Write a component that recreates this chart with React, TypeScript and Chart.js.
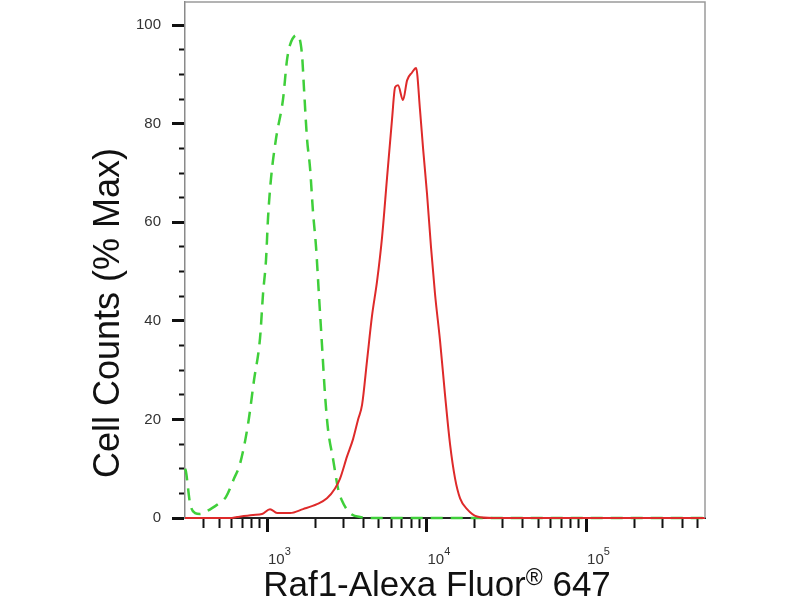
import { useEffect, useRef } from "react";
import { Chart, registerables } from "chart.js";

Chart.register(...registerables);

// isotype control (green, dashed)
const isoX = [306, 310, 329, 354, 380, 409, 452, 500, 553, 621, 677, 760, 829, 904, 944, 986, 1015, 1060, 1139, 1260, 1335, 1394, 1542, 1657, 1706, 1781, 1861, 1943, 2029, 2118, 2212, 2310, 2412, 2593, 2787, 2953, 3314, 3830, 5000, 557000];
const isoY = [10, 9.5, 3, 1, 0.8, 1.2, 2, 3, 4.3, 8, 11, 19, 28, 36.5, 45.5, 52.5, 61, 69, 77, 85, 93, 96, 98, 94, 87, 77, 71, 62, 55, 45, 35, 25, 18, 12, 6, 3.5, 1, 0.2, 0, 0];

// Raf1 stained sample (red)
const rafX = [306, 380, 586, 649, 817, 930, 1044, 1156, 1394, 1682, 2057, 2376, 2668, 2869, 3175, 3462, 3723, 3945, 4238, 4551, 4894, 5263, 5654, 6080, 6353, 6628, 7123, 7551, 8117, 8600, 9107, 9512, 10070, 10670, 11300, 12150, 13060, 14040, 15100, 16230, 17950, 20730, 26130, 557000];
const rafY = [0, 0, 0, 0.2, 0.6, 0.8, 1.8, 1, 1, 1.8, 2.8, 4, 6, 8, 12.5, 16, 20, 23, 32, 41, 48, 57, 69, 81, 87.4, 87.8, 84.8, 88.8, 90.4, 91.3, 82.7, 75, 65.8, 54.9, 45.5, 36, 25, 15, 8, 4, 1.8, 0.3, 0, 0];

const X_MIN = 306;
const X_MAX = 557000;
const Y_MAX = 104.7;

const xMajor = [1e3, 1e4, 1e5];
const xExp = ["3", "4", "5"];
const xMinorFactors = [2, 3, 4, 5, 6, 7, 8, 9];
const yMajor = [0, 20, 40, 60, 80, 100];
const yStep = 5;

const xTitle = "Raf1-Alexa Fluor";
const xTitleMark = "®";
const xTitleTail = " 647";
const yTitle = "Cell Counts (% Max)";

const FONT = "'Liberation Sans', Arial, sans-serif";

const xTickValues = [100, ...xMajor]
  .flatMap((d) => [d, ...xMinorFactors.map((f) => d * f)])
  .filter((v) => v >= X_MIN && v <= X_MAX);
const yTickValues: number[] = [];
for (let v = 0; v <= 100; v += yStep) yTickValues.push(v);

const decor = {
  id: "decor",
  afterDraw(chart: Chart) {
    const { ctx, chartArea: a, scales } = chart;
    ctx.save();
    // frame on top and right
    ctx.strokeStyle = "#9a9a9a";
    ctx.lineWidth = 1.5;
    ctx.beginPath();
    ctx.moveTo(a.left, a.top);
    ctx.lineTo(a.right, a.top);
    ctx.lineTo(a.right, a.bottom);
    ctx.stroke();

    // x tick labels: 10^n
    ctx.fillStyle = "#333";
    ctx.textAlign = "left";
    ctx.textBaseline = "alphabetic";
    xMajor.forEach((v, i) => {
      const px = scales.x.getPixelForValue(v) + 1;
      ctx.font = `15px ${FONT}`;
      ctx.fillText("10", px, a.bottom + 46);
      const w = ctx.measureText("10").width;
      ctx.font = `11px ${FONT}`;
      ctx.fillText(xExp[i], px + w, a.bottom + 37);
    });

    // x title with superscript mark
    ctx.fillStyle = "#111";
    ctx.font = `35px ${FONT}`;
    const w1 = ctx.measureText(xTitle).width;
    const w3 = ctx.measureText(xTitleTail).width;
    ctx.font = `23px ${FONT}`;
    const w2 = ctx.measureText(xTitleMark).width;
    let tx = (a.left + a.right) / 2 - 8 - (w1 + w2 + w3) / 2;
    const ty = a.bottom + 78;
    ctx.font = `35px ${FONT}`;
    ctx.fillText(xTitle, tx, ty);
    tx += w1;
    ctx.font = `23px ${FONT}`;
    ctx.fillText(xTitleMark, tx, ty - 11);
    tx += w2;
    ctx.font = `35px ${FONT}`;
    ctx.fillText(xTitleTail, tx, ty);

    // y title
    ctx.translate(a.left - 76, a.top + 311);
    ctx.rotate(-Math.PI / 2);
    ctx.textAlign = "center";
    ctx.textBaseline = "middle";
    ctx.font = `36px ${FONT}`;
    ctx.fillText(yTitle, 0, 0);
    ctx.restore();
  },
};

export default function App() {
  const canvasRef = useRef<HTMLCanvasElement>(null);
  const chartRef = useRef<Chart | null>(null);

  useEffect(() => {
    if (!canvasRef.current) return;
    chartRef.current?.destroy();

    chartRef.current = new Chart(canvasRef.current, {
      type: "line",
      data: {
        datasets: [
          {
            label: "Raf1",
            data: rafX.map((x, i) => ({ x, y: rafY[i] })),
            borderColor: "#de2a2a",
            borderWidth: 2,
            pointRadius: 0,
            cubicInterpolationMode: "monotone",
            fill: false,
            clip: 4,
          },
          {
            label: "Isotype",
            data: isoX.map((x, i) => ({ x, y: isoY[i] })),
            borderColor: "#3fcf3a",
            borderWidth: 2.5,
            borderDash: [12, 8],
            pointRadius: 0,
            cubicInterpolationMode: "monotone",
            fill: false,
            clip: 4,
          },
        ],
      },
      options: {
        animation: false,
        responsive: true,
        maintainAspectRatio: false,
        layout: { padding: { left: 0, top: 2, right: 95, bottom: 0 } },
        plugins: { legend: { display: false }, tooltip: { enabled: false } },
        scales: {
          x: {
            type: "logarithmic",
            min: X_MIN,
            max: X_MAX,
            afterBuildTicks: (s: any) => {
              s.ticks = xTickValues.map((v) => ({ value: v }));
            },
            afterFit: (s: any) => {
              s.height = 82;
              s.paddingLeft = 0;
              s.paddingRight = 0;
            },
            ticks: { callback: () => "", autoSkip: false, maxRotation: 0 },
            grid: {
              drawOnChartArea: false,
              tickLength: 14,
              tickColor: "#111",
              tickWidth: (c: any) => (xMajor.includes(c.tick?.value) ? 3 : 2),
              tickBorderDash: (c: any) => (xMajor.includes(c.tick?.value) ? [] : [9, 100]),
            },
            border: { color: "#222", width: 2 },
          },
          y: {
            min: 0,
            max: Y_MAX,
            afterBuildTicks: (s: any) => {
              s.ticks = yTickValues.map((v) => ({ value: v }));
            },
            afterFit: (s: any) => {
              s.width = 185;
              s.paddingTop = 0;
              s.paddingBottom = 0;
            },
            ticks: {
              autoSkip: false,
              padding: 11,
              color: "#333",
              font: { family: FONT, size: 15 },
              callback: (v: any) => (yMajor.includes(Number(v)) ? String(v) : ""),
            },
            grid: {
              drawOnChartArea: false,
              tickLength: 13,
              tickColor: "#111",
              tickWidth: (c: any) => (yMajor.includes(c.tick?.value) ? 3 : 2),
              tickBorderDash: (c: any) => (yMajor.includes(c.tick?.value) ? [] : [0, 7, 6, 100]),
            },
            border: { color: "#8a8a8a", width: 1.5 },
          },
        },
      },
      plugins: [decor],
    });

    return () => {
      chartRef.current?.destroy();
    };
  }, []);

  return (
    <div style={{ position: "absolute", left: 0, top: 0, width: 800, height: 600 }}>
      <canvas ref={canvasRef} />
    </div>
  );
}
